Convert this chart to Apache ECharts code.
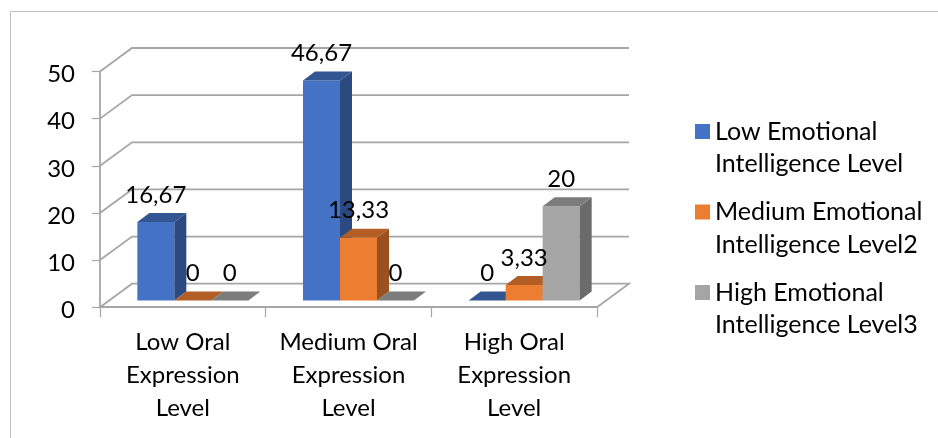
<!DOCTYPE html>
<html>
<head>
<meta charset="utf-8">
<style>html,body{margin:0;padding:0;background:#fff}#chart{width:938px;height:438px}</style>
<script src="https://cdn.jsdelivr.net/npm/echarts@6/dist/echarts.min.js"></script>
</head>
<body>
<div id="chart"></div>
<script>
// Cross-tab of oral expression level against emotional intelligence level (percent)
const categories = ['Low Oral\nExpression\nLevel', 'Medium Oral\nExpression\nLevel', 'High Oral\nExpression\nLevel'];
const lowEI = [16.67, 46.67, 0];
const mediumEI = [0, 13.33, 3.33];
const highEI = [0, 0, 20];
const yTicks = [0, 10, 20, 30, 40, 50];
const seriesNames = [
  'Low Emotional\nIntelligence Level',
  'Medium Emotional\nIntelligence Level2',
  'High Emotional\nIntelligence Level3'
];
const seriesValues = [lowEI, mediumEI, highEI];
const palette = [
  { front: '#4472C4', side: '#2B4A80', top: '#335592' },
  { front: '#ED7D31', side: '#9A511F', top: '#B25E25' },
  { front: '#A5A5A5', side: '#6B6B6B', top: '#7C7C7C' }
];

const FONT = 'Lato, "Open Sans", sans-serif';
const AXIS_COLOR = '#a6a6a6';
const WALL_DX = 32, WALL_DY = 23.5;     // pseudo-3D offset of the back wall
const BAR_DX = 12, BAR_DY = 9;          // depth of each box
const BASE_DX = 10, BASE_DY = 6.6;      // how far the boxes stand behind the front edge
const BAR_SHARE = 37 / 165.67;          // box width relative to a category band

// Back wall gridlines with their slanted returns along the side wall
function renderWall(params, api) {
  const cs = params.coordSys;
  const y = api.coord([0, api.value(1)])[1];
  const left = cs.x, right = cs.x + cs.width;
  const style = { stroke: AXIS_COLOR, lineWidth: 1.8, fill: null };
  const pts = [[left, y], [left + WALL_DX, y - WALL_DY], [right + WALL_DX, y - WALL_DY]];
  if (api.value(1) === 0) pts.push([right, y]);
  return { type: 'polyline', shape: { points: pts }, style, silent: true };
}

// One pseudo-3D box: front face, side face, top face and its value label
function boxRenderer(order, colors) {
  return function (params, api) {
    const cat = api.value(0), val = api.value(1);
    const band = api.size([1, 0])[0];
    const w = band * BAR_SHARE;
    const center = api.coord([cat, 0])[0] + BASE_DX;
    const x0 = center - 1.5 * w + order * w, x1 = x0 + w;
    const yBase = api.coord([cat, 0])[1] - BASE_DY;
    const yTop = api.coord([cat, val])[1] - BASE_DY;
    const poly = (points, fill) => ({ type: 'polygon', shape: { points }, style: { fill } });
    const children = [];
    if (val > 0) {
      children.push(poly([[x0, yTop], [x1, yTop], [x1, yBase], [x0, yBase]], colors.front));
      children.push(poly([[x1, yTop], [x1 + BAR_DX, yTop - BAR_DY], [x1 + BAR_DX, yBase - BAR_DY], [x1, yBase]], colors.side));
    }
    children.push(poly([[x0, yTop], [x0 + BAR_DX, yTop - BAR_DY], [x1 + BAR_DX, yTop - BAR_DY], [x1, yTop]], colors.top));
    children.push({
      type: 'text',
      z2: 100,
      style: {
        x: x0 + w / 2, y: yTop - 27,
        text: String(val).replace('.', ','),
        fill: '#000', font: '24px ' + FONT,
        align: 'center', verticalAlign: 'middle'
      }
    });
    return { type: 'group', children };
  };
}

const chart = echarts.init(document.getElementById('chart'), null, { renderer: 'canvas' });
chart.setOption({
  animation: false,
  backgroundColor: '#fff',
  graphic: [{
    type: 'polyline',
    shape: { points: [[10.5, 438], [10.5, 11.5], [938, 11.5]] },
    style: { stroke: '#bfbfbf', lineWidth: 1, fill: null },
    silent: true
  }],
  grid: { left: 100, top: 71.5, width: 497, height: 235.7, containLabel: false },
  legend: {
    orient: 'vertical',
    left: 695,
    top: 115.5,
    padding: 0,
    itemWidth: 15,
    itemHeight: 48,
    itemGap: 15.5,
    data: seriesNames.map(name => ({ name })),
    // square sits beside the first line of each two-line entry
    icon: 'path://M0 0H15V15H0ZM0 48L0 48Z',
    itemStyle: { borderWidth: 0 },
    textStyle: { fontFamily: FONT, fontSize: 25, color: '#000', lineHeight: 32.5 },
    selectedMode: false
  },
  xAxis: {
    type: 'category',
    data: categories,
    axisLine: { show: true, lineStyle: { color: AXIS_COLOR, width: 1.8 } },
    axisTick: { show: true, length: 10, alignWithLabel: false, lineStyle: { color: AXIS_COLOR, width: 1.2 } },
    axisLabel: { fontFamily: FONT, fontSize: 24, color: '#000', lineHeight: 33, margin: 19, interval: 0 }
  },
  yAxis: {
    type: 'value',
    min: 0,
    max: 50,
    interval: 10,
    axisLine: { show: true, lineStyle: { color: AXIS_COLOR, width: 1.8 } },
    axisTick: { show: true, length: 8, lineStyle: { color: AXIS_COLOR, width: 1.2 } },
    axisLabel: {
      color: '#000',
      margin: 25,
      formatter: '{v|{value}}',
      rich: { v: { fontFamily: FONT, fontSize: 24, color: '#000', padding: [6, 0, 0, 0] } }
    },
    splitLine: { show: false }
  },
  series: [
    {
      type: 'custom',
      name: 'wall',
      silent: true,
      z: 1,
      renderItem: renderWall,
      encode: { x: 0, y: 1 },
      data: yTicks.map(t => [0, t])
    }
  ].concat(seriesNames.map((name, i) => ({
    type: 'custom',
    name,
    z: 2,
    itemStyle: { color: palette[i].front },
    renderItem: boxRenderer(i, palette[i]),
    encode: { x: 0, y: 1 },
    data: seriesValues[i].map((v, c) => [c, v])
  })))
});
</script>
</body>
</html>
